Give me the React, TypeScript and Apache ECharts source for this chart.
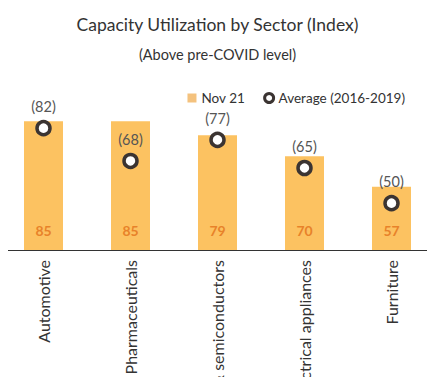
import React, { useEffect, useRef } from "react";
import * as echarts from "echarts";

const categories = ["Automotive", "Pharmaceuticals", "Electronics & semiconductors", "Electrical appliances", "Furniture"];
const nov21 = [85, 85, 79, 70, 57];
const average = [82, 68, 77, 65, 50];

const FONT = "Lato";

export default function App() {
  const ref = useRef<HTMLDivElement>(null);
  useEffect(() => {
    const chart = echarts.init(ref.current!, undefined, { renderer: "svg" });
    chart.setOption({
      animation: false,
      backgroundColor: "#ffffff",
      textStyle: { fontFamily: FONT },
      title: [
        {
          text: "Capacity Utilization by Sector (Index)",
          left: "center",
          top: 10,
          textStyle: { fontFamily: FONT, fontSize: 17.5, fontWeight: "normal", color: "#333" },
        },
        {
          text: "(Above pre-COVID level)",
          left: "center",
          top: 42,
          textStyle: { fontFamily: FONT, fontSize: 14.5, fontWeight: "normal", color: "#333" },
        },
      ],
      legend: {
        right: 25,
        top: 86,
        itemGap: 18,
        itemWidth: 9,
        itemHeight: 9,
        textStyle: { fontFamily: FONT, fontSize: 13.5, color: "#333" },
        data: [
          { name: "Nov 21", icon: "rect", itemStyle: { color: "#F4C27E" } },
          { name: "Average (2016-2019)", icon: "circle", itemStyle: { color: "#fff", borderColor: "#3b3432", borderWidth: 3 } },
        ],
      },
      grid: { left: 0, right: 0, top: 86, bottom: 135, containLabel: false, outerBoundsMode: "none" },
      xAxis: {
        type: "category",
        data: categories,
        axisLine: { lineStyle: { color: "#333", width: 1 } },
        axisTick: { show: false },
        axisLabel: {
          rotate: 90,
          interval: 0,
          margin: 10,
          fontFamily: FONT,
          fontSize: 16,
          color: "#333",
        },
      },
      yAxis: {
        type: "value",
        min: 30,
        max: 100,
        show: false,
        splitLine: { show: false },
      },
      series: [
        {
          name: "Nov 21",
          type: "bar",
          data: nov21,
          barWidth: 39,
          itemStyle: { color: "#FCC261" },
          label: {
            show: true,
            position: "insideBottom",
            distance: 13,
            fontFamily: FONT,
            fontSize: 14,
            fontWeight: "bold",
            color: "#E8822A",
          },
        },
        {
          name: "Average (2016-2019)",
          type: "scatter",
          data: average,
          symbol: "circle",
          symbolSize: 13,
          itemStyle: { color: "#fff", borderColor: "#3b3432", borderWidth: 3.5, opacity: 1 },
          label: {
            show: true,
            position: "top",
            distance: 6,
            formatter: (p: any) => "(" + p.value + ")",
            fontFamily: FONT,
            fontSize: 14.5,
            color: "#555",
          },
          z: 3,
        },
      ],
    });
    return () => chart.dispose();
  }, []);
  return <div ref={ref} style={{ width: 435, height: 385, margin: -8 }} />;
}
